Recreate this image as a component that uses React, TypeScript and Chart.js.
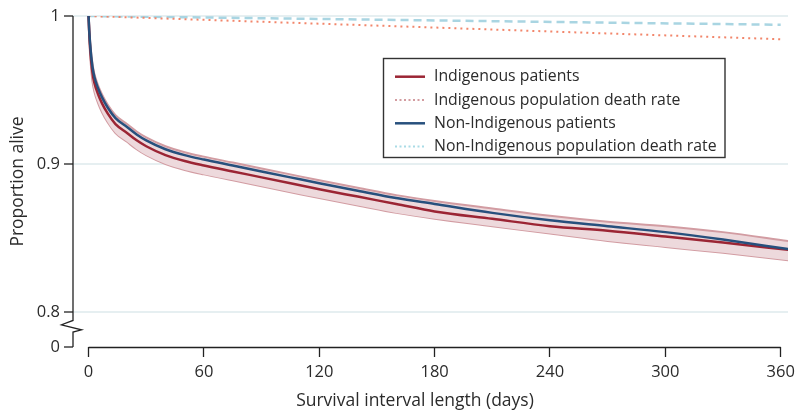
import { useEffect, useRef } from 'react';
import { Chart, registerables } from 'chart.js';

Chart.register(...registerables);

// ---- Data ----
const days = [0, 0.3, 1, 2, 3, 5, 7, 10, 14, 20, 25, 30, 40, 50, 60, 75, 90, 105, 120, 140, 160, 180, 210, 240, 270, 300, 330, 364];
const indigenousPatients = [1, 0.99, 0.975, 0.962, 0.955, 0.947, 0.941, 0.934, 0.927, 0.921, 0.916, 0.912, 0.906, 0.902, 0.899, 0.895, 0.891, 0.887, 0.883, 0.878, 0.873, 0.868, 0.863, 0.858, 0.855, 0.851, 0.847, 0.842];
const indigenousUpper = [1, 0.994, 0.98, 0.968, 0.961, 0.953, 0.947, 0.94, 0.933, 0.927, 0.922, 0.918, 0.912, 0.908, 0.905, 0.901, 0.897, 0.893, 0.889, 0.884, 0.879, 0.875, 0.87, 0.865, 0.861, 0.858, 0.854, 0.848];
const indigenousLower = [1, 0.986, 0.97, 0.956, 0.949, 0.941, 0.935, 0.928, 0.921, 0.915, 0.91, 0.906, 0.9, 0.896, 0.893, 0.889, 0.885, 0.881, 0.877, 0.872, 0.867, 0.863, 0.858, 0.853, 0.848, 0.844, 0.84, 0.835];
const nonIndigenousPatients = [1, 0.991, 0.978, 0.966, 0.959, 0.951, 0.945, 0.938, 0.931, 0.925, 0.92, 0.916, 0.91, 0.906, 0.903, 0.899, 0.895, 0.891, 0.887, 0.882, 0.877, 0.873, 0.867, 0.862, 0.858, 0.854, 0.849, 0.8425];

const popDays = [0, 90, 180, 270, 360];
const indigenousPopulation = [1, 0.9961, 0.9922, 0.9882, 0.9843];
const nonIndigenousPopulation = [1, 0.9985, 0.997, 0.9955, 0.9941];

const xTickValues = [0, 60, 120, 180, 240, 300, 360];
const yTickValues = [0.8, 0.9, 1];
const yBreakValue = 0.7764; // bottom of the broken axis, labelled "0"
const yBreakLabel = '0';

const legendLabels = [
  'Indigenous patients',
  'Indigenous population death rate',
  'Non-Indigenous patients',
  'Non-Indigenous population death rate',
];
const xTitle = 'Survival interval length (days)';
const yTitle = 'Proportion alive';

// ---- Styles ----
const FONT = '"Open Sans", "DejaVu Sans", sans-serif';
const TEXT = '#2b2b2b';
const AXIS = '#222222';
const RED = '#9b2534';
const BLUE = '#27507d';
const BAND_LINE = '#d29ca2';
const BAND_FILL = '#edd9dc';
const POP_RED = '#f2866b';
const POP_BLUE = '#a9d5e2';
const GRID = '#e6eff1';

const legendStyles = [
  { color: RED, width: 2.5, dash: [] as number[] },
  { color: '#d39ca0', width: 2, dash: [2, 2.5] },
  { color: BLUE, width: 2.5, dash: [] as number[] },
  { color: '#a9dbe6', width: 2, dash: [2, 2.5] },
];

const pts = (xs: number[], ys: number[]) => xs.map((x, i) => ({ x, y: ys[i] }));

const axesPlugin = {
  id: 'brokenAxes',
  afterDraw(chart: any) {
    const { ctx, chartArea, scales } = chart;
    const xs = scales.x;
    const ys = scales.y;
    ctx.save();
    ctx.strokeStyle = AXIS;
    ctx.lineWidth = 1.3;
    // x axis line from 0 to 360
    const xb = Math.round(chartArea.bottom) + 0.5;
    ctx.beginPath();
    ctx.moveTo(xs.getPixelForValue(xTickValues[0]), xb);
    ctx.lineTo(xs.getPixelForValue(xTickValues[xTickValues.length - 1]), xb);
    ctx.stroke();
    // y axis with break
    const ax = chartArea.left;
    const p08 = ys.getPixelForValue(yTickValues[0]);
    ctx.beginPath();
    ctx.moveTo(ax, chartArea.top);
    ctx.lineTo(ax, p08 + 8.4);
    ctx.lineTo(ax - 11.5, p08 + 12.7);
    ctx.lineTo(ax + 8.5, p08 + 17.7);
    ctx.lineTo(ax, p08 + 20);
    ctx.lineTo(ax, chartArea.bottom);
    ctx.stroke();
    // x title
    ctx.fillStyle = TEXT;
    ctx.font = `17.5px ${FONT}`;
    ctx.textAlign = 'center';
    ctx.textBaseline = 'middle';
    ctx.fillText(xTitle, 415, 401);
    ctx.restore();
  },
};

const legendPlugin = {
  id: 'boxLegend',
  afterDraw(chart: any) {
    const { ctx } = chart;
    ctx.save();
    const x0 = 383.5, y0 = 58.5, w = 341.5, h = 99;
    ctx.fillStyle = '#ffffff';
    ctx.fillRect(x0, y0, w, h);
    ctx.strokeStyle = '#333333';
    ctx.lineWidth = 1.4;
    ctx.strokeRect(x0, y0, w, h);
    ctx.font = `15.8px ${FONT}`;
    ctx.textBaseline = 'middle';
    ctx.textAlign = 'left';
    legendLabels.forEach((label, i) => {
      const s = legendStyles[i];
      const cy = 76.7 + i * 23.3;
      ctx.beginPath();
      ctx.setLineDash(s.dash);
      ctx.strokeStyle = s.color;
      ctx.lineWidth = s.width;
      ctx.moveTo(395, cy);
      ctx.lineTo(425, cy);
      ctx.stroke();
      ctx.setLineDash([]);
      ctx.fillStyle = TEXT;
      ctx.fillText(label, 434, cy);
    });
    ctx.restore();
  },
};

export default function App() {
  const ref = useRef<HTMLCanvasElement>(null);
  useEffect(() => {
    let chart: Chart | null = null;
    let cancelled = false;
    const make = () => {
      if (cancelled || !ref.current) return;
      chart = new Chart(ref.current, {
        type: 'line',
        data: {
          datasets: [
            {
              label: 'Indigenous upper',
              data: pts(days, indigenousUpper),
              borderColor: BAND_LINE,
              borderWidth: 2,
              backgroundColor: BAND_FILL,
              fill: '+1',
              pointRadius: 0,
              cubicInterpolationMode: 'monotone',
              order: 3,
            },
            {
              label: 'Indigenous lower',
              data: pts(days, indigenousLower),
              borderColor: BAND_LINE,
              borderWidth: 2,
              fill: false,
              pointRadius: 0,
              cubicInterpolationMode: 'monotone',
              order: 3,
            },
            {
              label: legendLabels[0],
              data: pts(days, indigenousPatients),
              borderColor: RED,
              borderWidth: 2.5,
              fill: false,
              pointRadius: 0,
              cubicInterpolationMode: 'monotone',
              order: 1,
            },
            {
              label: legendLabels[1],
              data: pts(popDays, indigenousPopulation),
              borderColor: POP_RED,
              borderWidth: 2,
              borderDash: [2, 4],
              fill: false,
              pointRadius: 0,
              order: 4,
            },
            {
              label: legendLabels[2],
              data: pts(days, nonIndigenousPatients),
              borderColor: BLUE,
              borderWidth: 2.5,
              fill: false,
              pointRadius: 0,
              cubicInterpolationMode: 'monotone',
              order: 0,
            },
            {
              label: legendLabels[3],
              data: pts(popDays, nonIndigenousPopulation),
              borderColor: POP_BLUE,
              borderWidth: 2.5,
              borderDash: [8, 5],
              fill: false,
              pointRadius: 0,
              order: 5,
            },
          ],
        },
        options: {
          responsive: false,
          animation: false,
          devicePixelRatio: 1,
          layout: { padding: { top: 16, right: 17, bottom: 0, left: 0 } },
          plugins: {
            legend: { display: false },
            tooltip: { enabled: false },
          },
          scales: {
            x: {
              type: 'linear',
              min: -8.1,
              max: 363.8,
              border: { display: false },
              grid: {
                drawOnChartArea: false,
                drawTicks: true,
                tickLength: 10,
                tickColor: AXIS,
                tickWidth: 1.3,
              },
              ticks: {
                color: TEXT,
                font: { family: FONT, size: 16.5 },
                padding: 5,
                maxRotation: 0,
                callback: (v: any) => String(v),
              },
              afterBuildTicks: (scale: any) => {
                scale.ticks = xTickValues.map((v) => ({ value: v }));
              },
              afterFit: (scale: any) => {
                scale.height = 63;
                scale.paddingLeft = 0;
                scale.paddingRight = 0;
              },
            },
            y: {
              type: 'linear',
              min: yBreakValue,
              max: 1,
              border: { display: false },
              grid: {
                color: (c: any) => (c.tick && c.tick.value < 0.79 ? 'rgba(0,0,0,0)' : GRID),
                lineWidth: 2,
                drawTicks: true,
                tickLength: 9,
                tickColor: AXIS,
                tickWidth: 1.3,
              },
              ticks: {
                color: TEXT,
                font: { family: FONT, size: 16.5 },
                padding: 4,
                callback: (v: any) =>
                  v < 0.79 ? yBreakLabel : v === 1 ? '1' : Number(v).toFixed(1),
              },
              title: {
                display: true,
                text: yTitle,
                color: TEXT,
                font: { family: FONT, size: 17.5, lineHeight: 1 },
                padding: { top: 9.5, bottom: 0 },
              },
              afterBuildTicks: (scale: any) => {
                scale.ticks = [yBreakValue, ...yTickValues].map((v) => ({ value: v }));
              },
              afterFit: (scale: any) => {
                scale.width = 73;
              },
            },
          },
        },
        plugins: [axesPlugin, legendPlugin],
      } as any);
    };
    const fonts: any = (document as any).fonts;
    if (fonts && fonts.load) {
      Promise.all([fonts.load(`16px ${FONT}`), fonts.load(`15px ${FONT}`)])
        .catch(() => {})
        .then(make);
    } else {
      make();
    }
    return () => {
      cancelled = true;
      if (chart) chart.destroy();
    };
  }, []);
  return (
    <div style={{ position: 'absolute', left: 0, top: 0, width: 805, height: 410 }}>
      <canvas ref={ref} width={805} height={410} style={{ display: 'block' }} />
    </div>
  );
}
